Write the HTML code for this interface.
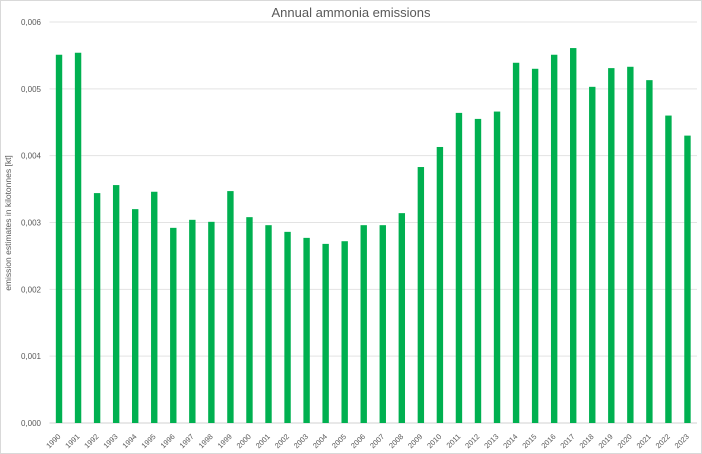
<!DOCTYPE html>
<html><head><meta charset="utf-8"><style>
html,body{margin:0;padding:0;background:#fff;}
#c{position:relative;width:702px;height:454px;box-sizing:border-box;border:1px solid #d9d9d9;font-family:"Liberation Sans",sans-serif;}
</style></head><body>
<div id="c">
<svg id="s" width="702" height="454" style="position:absolute;left:-1px;top:-1px">
<text x="351" y="17" text-anchor="middle" font-size="13" fill="#595959">Annual ammonia emissions</text>
<text transform="translate(11,223) rotate(-90)" text-anchor="middle" font-size="8.5" fill="#595959">emission estimates in kilotonnes [kt]</text>
</svg>
</div>
<script>
const years=["1990","1991","1992","1993","1994","1995","1996","1997","1998","1999","2000","2001","2002","2003","2004","2005","2006","2007","2008","2009","2010","2011","2012","2013","2014","2015","2016","2017","2018","2019","2020","2021","2022","2023"];
const values=[0.00551,0.00554,0.00344,0.00356,0.00320,0.00346,0.00292,0.00304,0.00301,0.00347,0.00308,0.00296,0.00286,0.00277,0.00268,0.00272,0.00296,0.00296,0.00314,0.00383,0.00413,0.00464,0.00455,0.00466,0.00539,0.00530,0.00551,0.00561,0.00503,0.00531,0.00533,0.00513,0.00460,0.00430];
const yTicks=[0,0.001,0.002,0.003,0.004,0.005,0.006];
const yTickLabels=["0,000","0,001","0,002","0,003","0,004","0,005","0,006"];
const NS="http://www.w3.org/2000/svg";
const svg=document.getElementById('s');
const x0=49.5,x1=697,y0=423,yTop=22,yMax=0.006;
const band=(x1-x0)/years.length;
const y=v=>y0-(v/yMax)*(y0-yTop);
const xc=i=>x0+band*(i+0.5);
function mk(t,a){const e=document.createElementNS(NS,t);for(const k in a)e.setAttribute(k,a[k]);svg.appendChild(e);return e;}
yTicks.forEach((t,i)=>{
  const g=mk('line',{x1:x0,x2:x1,y1:y(t),y2:y(t),stroke:i===0?'#d0d0d0':'#e3e3e3','stroke-width':1});
  
  
  const l=mk('text',{x:41,y:y(t)+3,'text-anchor':'end','font-size':8,fill:'#595959'});
  l.textContent=yTickLabels[i];
  
  
});
values.forEach((v,i)=>{
  const r=mk('rect',{x:xc(i)-3.2,y:y(v),width:6.4,height:y0-y(v),fill:'#00b050'});
  
  
  const cx=xc(i)+2,cy=y0+14;
  const l=mk('text',{x:cx,y:cy,'text-anchor':'end','font-size':7.5,fill:'#595959',transform:`rotate(-45 ${cx} ${cy})`});
  l.textContent=years[i];
  
  
});
</script>
</body></html>
